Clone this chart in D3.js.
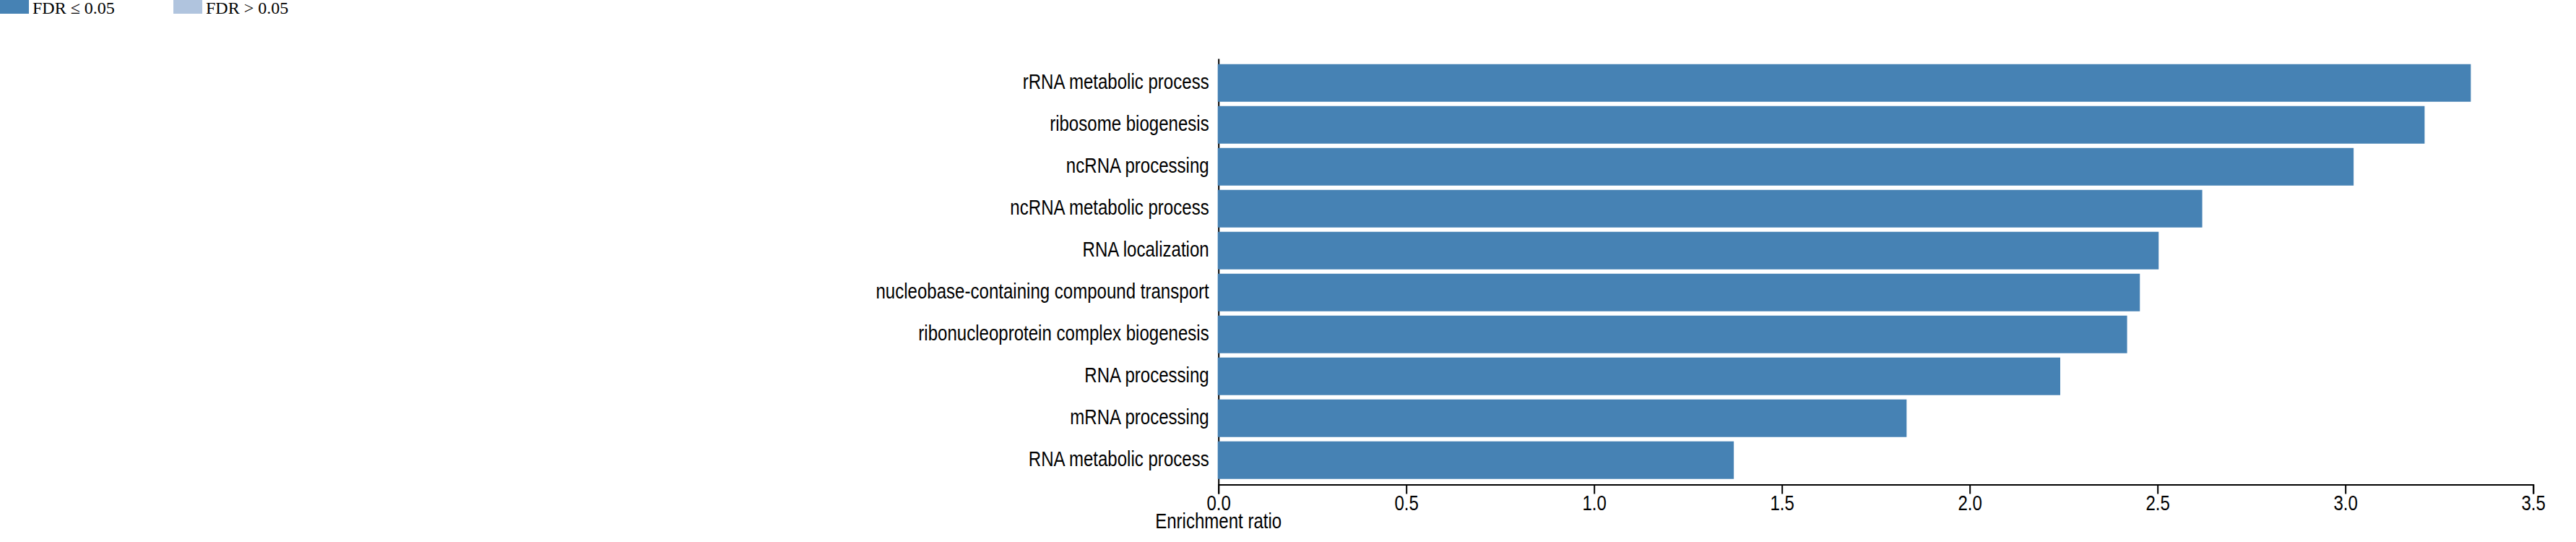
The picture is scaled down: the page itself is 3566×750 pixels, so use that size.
<!DOCTYPE html>
<html>
<head>
<meta charset="utf-8">
<script src="https://cdn.jsdelivr.net/npm/d3@7"></script>
<style>
  html, body { margin: 0; padding: 0; background: #fff; }
  svg { display: block; }
</style>
</head>
<body>
<svg id="chart" width="3566" height="750"></svg>
<script>
const categories = [
  "rRNA metabolic process",
  "ribosome biogenesis",
  "ncRNA processing",
  "ncRNA metabolic process",
  "RNA localization",
  "nucleobase-containing compound transport",
  "ribonucleoprotein complex biogenesis",
  "RNA processing",
  "mRNA processing",
  "RNA metabolic process"
];
const enrichmentRatio = [3.334, 3.211, 3.022, 2.619, 2.503, 2.453, 2.419, 2.241, 1.832, 1.372];
const fdrSignificant = [true, true, true, true, true, true, true, true, true, true];
const xTicks = [0, 0.5, 1.0, 1.5, 2.0, 2.5, 3.0, 3.5];
const legendLabels = ["FDR \u2264 0.05", "FDR > 0.05"];
const legendColors = ["#4682b4", "#b0c4de"];
const xLabel = "Enrichment ratio";

const svg = d3.select("#chart");
const FONT = "'Liberation Sans', Arial, sans-serif";
const FS = 29;
const SX = 0.83; // horizontally condensed text, as in the reference

const x = d3.scaleLinear().domain([0, 3.5]).range([1686.7, 3506.7]);
const y = d3.scaleBand().domain(categories).range([81, 670.5])
  .paddingInner(0.1034).paddingOuter(0.134);
const axisY = 670.5;

// x axis
const gx = svg.append("g")
  .attr("transform", `translate(0,${axisY})`)
  .call(d3.axisBottom(x).tickValues(xTicks).tickFormat(d3.format(".1f"))
    .tickSize(13).tickSizeOuter(13).tickPadding(6));
gx.select(".domain").attr("stroke", "#000").attr("stroke-width", 2);
gx.selectAll(".tick line").attr("stroke", "#000").attr("stroke-width", 2);
gx.selectAll(".tick text")
  .attr("font-family", FONT).attr("font-size", FS).attr("fill", "#000")
  .attr("y", 18).attr("dy", "0.6em")
  .attr("transform", `scale(${SX},1)`);

// y axis
const gy = svg.append("g")
  .attr("transform", `translate(${x(0)},0)`)
  .call(d3.axisLeft(y).tickSize(0).tickSizeOuter(0).tickPadding(13));
gy.select(".domain").attr("stroke", "#000").attr("stroke-width", 2);
gy.selectAll(".tick text")
  .attr("font-family", FONT).attr("font-size", FS).attr("fill", "#000")
  .attr("x", -13 / SX).attr("dy", "0.3em")
  .attr("transform", `scale(${SX},1)`);

// bars
svg.append("g").selectAll("rect")
  .data(categories)
  .join("rect")
  .attr("x", x(0) - 1)
  .attr("y", d => y(d))
  .attr("height", y.bandwidth())
  .attr("width", (d, i) => x(enrichmentRatio[i]) - x(0) + 1)
  .attr("fill", (d, i) => fdrSignificant[i] ? legendColors[0] : legendColors[1]);

// x label
svg.append("text")
  .attr("transform", `translate(${x(0)},731) scale(${SX},1)`)
  .attr("text-anchor", "middle")
  .attr("font-family", FONT)
  .attr("font-size", FS)
  .attr("fill", "#000")
  .text(xLabel);

// legend
const lg = svg.append("g");
const legendX = [0, 240];
legendLabels.forEach((lab, i) => {
  lg.append("rect").attr("x", legendX[i]).attr("y", -1).attr("width", 40).attr("height", 20)
    .attr("fill", legendColors[i]);
  lg.append("text").attr("x", legendX[i] + 45).attr("y", 19)
    .attr("font-family", "'Liberation Serif', 'Times New Roman', serif")
    .attr("font-size", 24).attr("fill", "#000").text(lab);
});
</script>
</body>
</html>
